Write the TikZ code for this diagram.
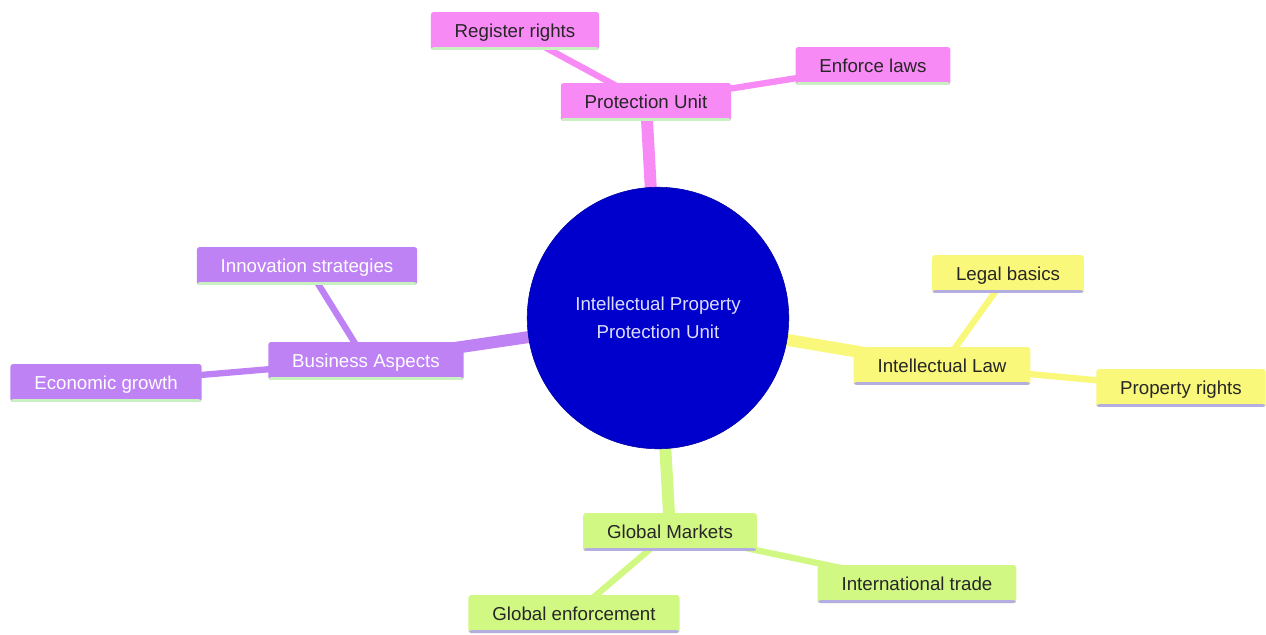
\documentclass[tikz,border=0pt]{standalone}
\usepackage{fontspec}
\setmainfont{Liberation Sans}
\usetikzlibrary{backgrounds}
\definecolor{hubblue}{HTML}{0000CD}
\definecolor{hubtext}{HTML}{DCDCFF}
\definecolor{pinkfill}{HTML}{F88AF5}
\definecolor{purplefill}{HTML}{BE82F5}
\definecolor{yellowfill}{HTML}{FAF87A}
\definecolor{greenfill}{HTML}{D2F884}
\definecolor{greenrule}{HTML}{C8F0C0}
\definecolor{lavrule}{HTML}{B4AEE0}
\tikzstyle{leaf} = [
    rectangle,
    rounded corners=2pt,
    minimum height=27pt,
    inner xsep=17pt,
    text height=11pt,
    text depth=1.5pt,
    text centered,
    font=\fontsize{13.3}{16}\selectfont
]
\tikzstyle{pinkbox} = [
    leaf,
    fill=pinkfill,
    text=black!85,
    path picture={\fill[greenrule] (path picture bounding box.south west) rectangle ([yshift=2pt]path picture bounding box.south east);}
]
\tikzstyle{purplebox} = [
    leaf,
    fill=purplefill,
    text=white,
    path picture={\fill[greenrule] (path picture bounding box.south west) rectangle ([yshift=2pt]path picture bounding box.south east);}
]
\tikzstyle{yellowbox} = [
    leaf,
    fill=yellowfill,
    text=black!85,
    path picture={\fill[lavrule] (path picture bounding box.south west) rectangle ([yshift=2pt]path picture bounding box.south east);}
]
\tikzstyle{greenbox} = [
    leaf,
    fill=greenfill,
    text=black!85,
    path picture={\fill[lavrule] (path picture bounding box.south west) rectangle ([yshift=2pt]path picture bounding box.south east);}
]
\tikzstyle{hub} = [
    circle,
    fill=hubblue,
    draw=hubblue!80!black,
    minimum size=186pt,
    inner sep=0pt,
    align=center,
    text=hubtext,
    font=\fontsize{13.3}{20}\selectfont
]
\tikzstyle{mainlink} = [line width=8.5pt]
\tikzstyle{sublink} = [line width=4.5pt]

\begin{document}
\begin{tikzpicture}[x=0.025cm, y=-0.025cm]
\useasboundingbox (0,0) rectangle (1266,634);

\node (ip) [hub] at (658,318) {Intellectual Property\\Protection Unit};

% protection branch
\node (prot) [pinkbox] at (646,102) {Protection Unit};
\node (reg) [pinkbox] at (515,31) {Register rights};
\node (enf) [pinkbox] at (873,66) {Enforce laws};

% business branch
\node (bus) [purplebox] at (366,361) {Business Aspects};
\node (inno) [purplebox] at (307,266) {Innovation strategies};
\node (econ) [purplebox] at (106,383) {Economic growth};

% law branch
\node (law) [yellowbox] at (942,366) {Intellectual Law};
\node (legal) [yellowbox] at (1008,274) {Legal basics};
\node (prop) [yellowbox] at (1181,388) {Property rights};

% markets branch
\node (glob) [greenbox] at (670,532) {Global Markets};
\node (trade) [greenbox] at (917,584) {International trade};
\node (genf) [greenbox] at (574,614) {Global enforcement};

\begin{scope}[on background layer]
\draw[mainlink, pinkfill] (ip.center) -- (prot.center);
\draw[sublink, pinkfill] (prot.center) -- (reg.center);
\draw[sublink, pinkfill] (prot.center) -- (enf.center);
\draw[mainlink, purplefill] (ip.center) -- (bus.center);
\draw[sublink, purplefill] (bus.center) -- (inno.center);
\draw[sublink, purplefill] (bus.center) -- (econ.center);
\draw[mainlink, yellowfill] (ip.center) -- (law.center);
\draw[sublink, yellowfill] (law.center) -- (legal.center);
\draw[sublink, yellowfill] (law.center) -- (prop.center);
\draw[mainlink, greenfill] (ip.center) -- (glob.center);
\draw[sublink, greenfill] (glob.center) -- (trade.center);
\draw[sublink, greenfill] (glob.center) -- (genf.center);
\end{scope}

\end{tikzpicture}
\end{document}
